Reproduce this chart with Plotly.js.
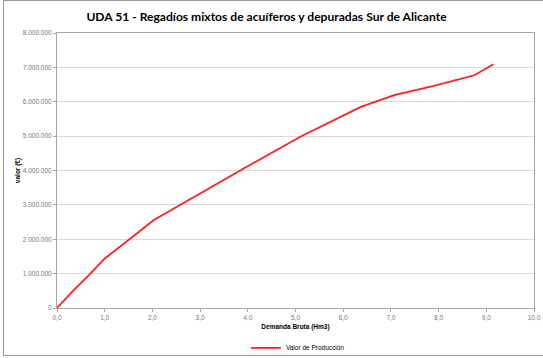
<!DOCTYPE html>
<html><head><meta charset="utf-8">
<script src="https://cdn.plot.ly/plotly-3.0.1.min.js"></script>
<style>html,body{margin:0;padding:0;background:#fff}#c{position:absolute;left:3px;top:0;width:539px;height:354px;border-left:1px solid #9a9a9a;border-top:1px solid #9a9a9a;border-bottom:1px solid #9a9a9a}</style>
</head><body><div id="c"></div>
<script>
const demanda = [0, 0.35, 0.7, 1.0, 1.5, 2.03, 3.0, 3.85, 5.1, 6.37, 7.07, 7.9, 8.75, 9.15];
const valor = [0, 520000, 1000000, 1440000, 1980000, 2560000, 3330000, 4010000, 4980000, 5850000, 6190000, 6460000, 6770000, 7090000];
const seriesName = 'Valor de Producción';
const chartTitle = 'UDA 51 - Regadíos mixtos de acuíferos y depuradas Sur de Alicante';
const xTitle = 'Demanda Bruta (Hm3)';
const yTitle = 'valor (€)';

const tickFont = {family: 'Liberation Sans, Arial, sans-serif', size: 6.5, color: '#777'};
Plotly.newPlot('c', [{
  x: demanda, y: valor, type: 'scatter', mode: 'lines', name: seriesName,
  line: {color: '#ff2020', width: 1.8}
}], {
  width: 539, height: 354,
  separators: ',.',
  margin: {l: 53, r: 9, t: 31.5, b: 46.5, autoexpand: false},
  paper_bgcolor: '#fff', plot_bgcolor: '#fff',
  title: {text: '<b>' + chartTitle + '</b>', x: 0.487, xanchor: 'center', y: 0.955, yanchor: 'middle',
    font: {family: 'Lato, Carlito, sans-serif', size: 12.1, color: '#000'}},
  xaxis: {range: [0, 10], dtick: 1, tickformat: '.1f', showgrid: false, zeroline: false,
    showline: true, mirror: true, linecolor: '#a6a6a6', linewidth: 1,
    ticks: 'outside', ticklen: 3, tickcolor: '#a6a6a6', tickfont: tickFont,
    title: {text: '<b>' + xTitle + '</b>', standoff: 4, font: {family: 'Liberation Sans, Arial, sans-serif', size: 6.5, color: '#000'}}},
  yaxis: {range: [0, 8000000], dtick: 1000000, tickformat: ',d', showgrid: true, gridcolor: '#d9d9d9', zeroline: false,
    showline: true, mirror: true, linecolor: '#a6a6a6', linewidth: 1,
    ticks: 'outside', ticklen: 3, tickcolor: '#a6a6a6', tickfont: tickFont,
    title: {text: '<b>' + yTitle + '</b>', standoff: 1, font: {family: 'Liberation Sans, Arial, sans-serif', size: 6.5, color: '#000'}}},
  showlegend: true,
  legend: {orientation: 'h', x: 0.505, xanchor: 'center', y: -0.092, yanchor: 'top',
    font: {family: 'Liberation Sans, Arial, sans-serif', size: 6.5, color: '#000'}}
}, {displayModeBar: false, staticPlot: true});
</script></body></html>
